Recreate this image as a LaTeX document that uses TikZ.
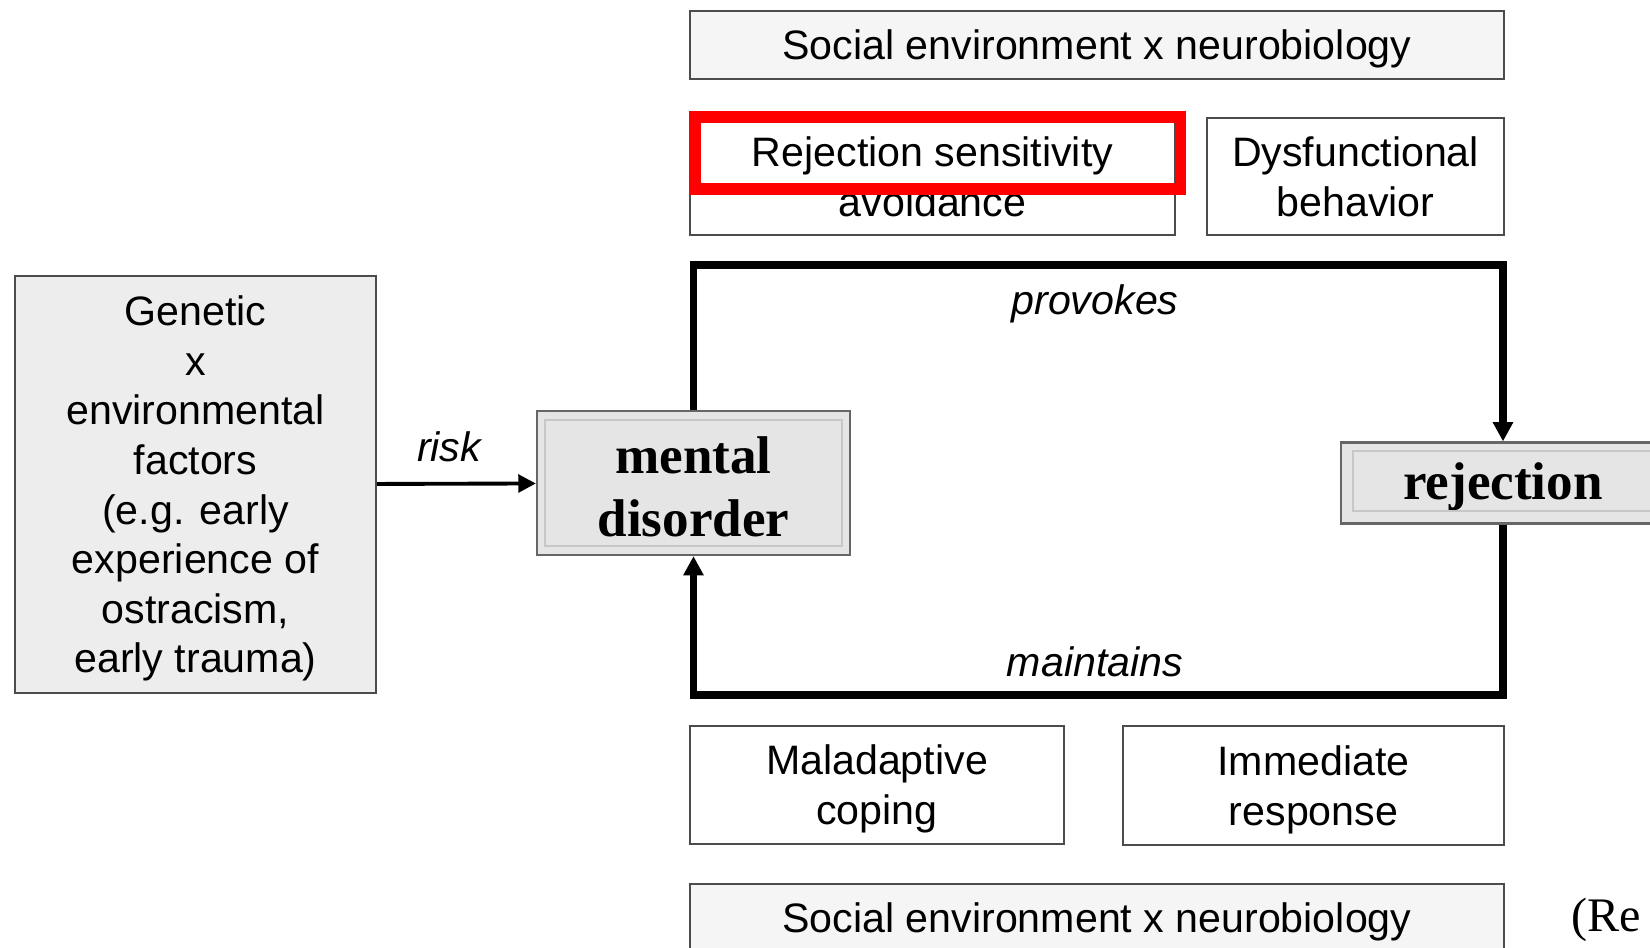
\documentclass[tikz,border=0pt]{standalone}
\usepackage{fontspec}
\setmainfont{Liberation Serif}
\setsansfont{Liberation Sans}
\usepackage{tikz}
\usetikzlibrary{arrows.meta, positioning}

\begin{document}
\begin{tikzpicture}[
    x=0.01cm, y=-0.01cm,
    every node/.style={font=\sffamily\fontsize{11.7}{14.1}\selectfont},
    box/.style={rectangle, draw=black!70, line width=0.6pt, fill=white, align=center, inner sep=0pt,
        text height=11.1pt, text depth=2.7pt},
    twoline/.style={text height=25.2pt},
    envbox/.style={box, fill=black!4, minimum width=81.4mm, minimum height=6.8mm},
    corebox/.style={rectangle, draw=black!60, line width=0.6pt, fill=black!10, align=center, inner sep=0pt,
        font=\rmfamily\bfseries\fontsize{15.1}{17.9}\selectfont},
    innerline/.style={draw=black!22, line width=0.6pt},
    arrow/.style={-{Triangle[length=5pt,width=5pt]}, line width=1.1pt},
    loopline/.style={-{Triangle[length=5.5pt,width=5.5pt]}, line width=2pt},
    label/.style={font=\sffamily\itshape\fontsize{11.7}{14.1}\selectfont}
]
\useasboundingbox (0,0) rectangle (1650,948);
\clip (0,0) rectangle (1650,948);

% Risk factors
\node[box, fill=black!7, minimum width=36.1mm, minimum height=41.7mm, text height=109.8pt] (genetic) at (195.5,484.5)
    {Genetic\\x\\environmental\\factors\\(e.g. early\\experience of\\ostracism,\\early trauma)};

% Core loop
\node[corebox, minimum width=31.3mm, minimum height=14.4mm, text height=33.9pt, text depth=3.5pt] (md) at (693.5,483) {mental\\disorder};
\node[corebox, minimum width=32.4mm, minimum height=8.1mm, text height=13.6pt, text depth=4.4pt] (rej) at (1503,483) {rejection};
\draw[innerline] ([shift={(0.9mm,-1mm)}]md.north west) rectangle ([shift={(-0.9mm,1mm)}]md.south east);
\draw[innerline] ([shift={(1.3mm,-1mm)}]rej.north west) rectangle ([shift={(-1.3mm,1.4mm)}]rej.south east);

% Upper boxes
\node[envbox] (envtop) at (1097,45) {Social environment x neurobiology};
\node[box, twoline, minimum width=48.5mm, minimum height=11.7mm] (sens) at (932.5,176.5) {Rejection sensitivity\\avoidance};
\node[box, twoline, minimum width=29.7mm, minimum height=11.7mm] (dysf) at (1355.5,176.5) {Dysfunctional\\behavior};

% Lower boxes
\node[box, twoline, minimum width=37.4mm, minimum height=11.8mm] (coping) at (877,785) {Maladaptive\\coping};
\node[box, twoline, minimum width=38.1mm, minimum height=11.9mm] (resp) at (1313.5,785.5) {Immediate\\response};
\node[envbox] (envbot) at (1097,918) {Social environment x neurobiology};

% Highlight
\draw[red, line width=3.4pt] (695,117) rectangle (1180.5,189);

% Connections
\coordinate (looptop) at (1097,265);
\coordinate (loopbot) at (1097,695);
\draw[arrow] (genetic) -- (md);
\draw[loopline] (md.north) -- (md.north |- looptop) -| (rej.north);
\draw[loopline] (rej.south) -- (rej.south |- loopbot) -| (md.south);

% Labels
\node[label] (risklbl) at (449,447) {risk};
\node[label] (provlbl) at (1095,304) {provokes};
\node[label] (maintlbl) at (1095,662) {maintains};
\node[anchor=base west, inner sep=0pt, font=\rmfamily\fontsize{13.7}{16}\selectfont] (ref) at (1571,931) {(Re};

\end{tikzpicture}
\end{document}
